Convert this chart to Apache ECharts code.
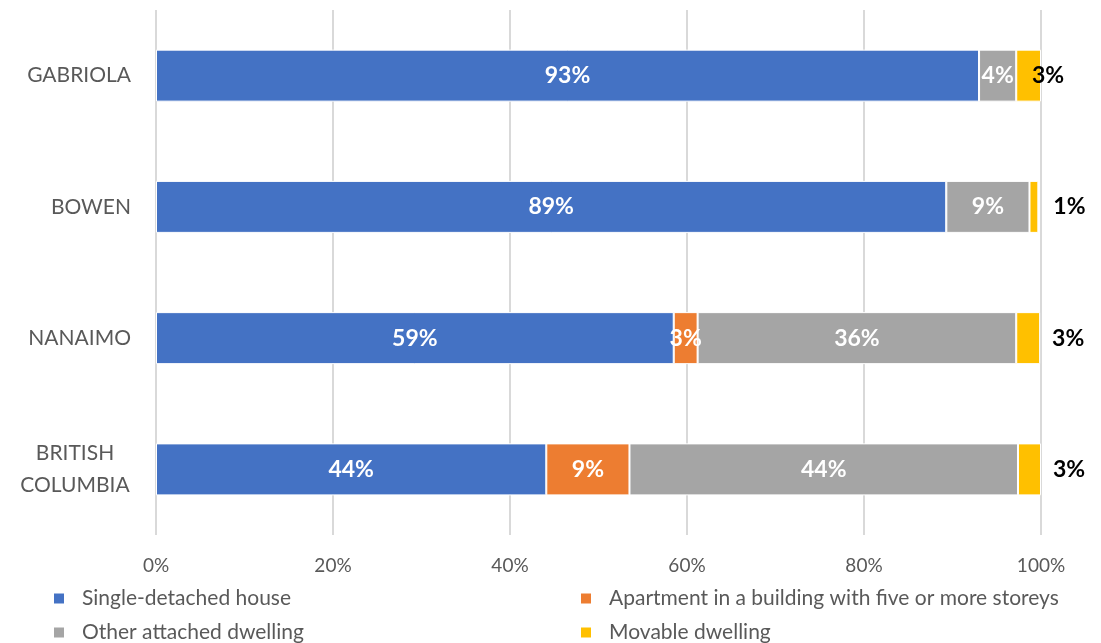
<!DOCTYPE html>
<html>
<head>
<meta charset="utf-8">
<script src="https://cdn.jsdelivr.net/npm/echarts@6/dist/echarts.min.js"></script>
<style>html,body{margin:0;padding:0;background:#fff;}#c{width:1101px;height:643px;}</style>
</head>
<body>
<div id="c"></div>
<script>
const categories = ['GABRIOLA', 'BOWEN', 'NANAIMO', 'BRITISH COLUMBIA'];
const seriesNames = ['Single-detached house', 'Apartment in a building with five or more storeys', 'Other attached dwelling', 'Movable dwelling'];
const singleDetached = [93.0, 89.3, 58.5, 44.1];
const apartment5Plus = [0, 0, 2.7, 9.4];
const otherAttached = [4.2, 9.4, 36.0, 43.9];
const movable = [2.8, 1.0, 2.7, 2.6];
const xTickLabels = ['0%', '20%', '40%', '60%', '80%', '100%'];

const colors = ['#4472C4', '#ED7D31', '#A5A5A5', '#FFC000'];
const FONT = 'Lato';
const values = [singleDetached, apartment5Plus, otherAttached, movable];

const fmt = p => (p.value > 0 ? Math.round(p.value) + '%' : '');

const series = values.map((arr, si) => {
  const isMov = si === 3;
  return {
    name: seriesNames[si],
    type: 'bar',
    stack: 'total',
    barWidth: 52,
    itemStyle: { color: colors[si], borderColor: '#fff', borderWidth: 1 },
    label: {
      show: true,
      position: isMov ? 'right' : 'inside',
      distance: 12,
      formatter: fmt,
      color: isMov ? '#000' : '#fff',
      fontFamily: FONT,
      fontWeight: 'bold',
      fontSize: 23
    },
    data: arr.map((v, i) => {
      if (isMov && i === 0) return { value: v, label: { offset: [-21, 0] } };
      if (isMov && i === 1) return { value: v, label: { offset: [3, 0] } };
      return v;
    })
  };
});

const legendBase = {
  orient: 'horizontal',
  padding: 0,
  itemWidth: 12,
  itemHeight: 12,
  icon: 'rect',
  textStyle: { color: '#595959', fontFamily: FONT, fontSize: 21, padding: [0, 0, 0, 12] }
};

const chart = echarts.init(document.getElementById('c'));
chart.setOption({
  animation: false,
  color: colors,
  grid: { left: 156, right: 60, top: 10, bottom: 108 },
  xAxis: {
    type: 'value',
    min: 0, max: 100, interval: 20,
    axisLine: { show: false },
    axisTick: { show: false },
    splitLine: { show: true, lineStyle: { color: '#d9d9d9', width: 2 } },
    axisLabel: {
      margin: 21,
      color: '#595959', fontFamily: FONT, fontSize: 19,
      formatter: v => xTickLabels[Math.round(v / 20)]
    }
  },
  yAxis: {
    type: 'category',
    inverse: true,
    data: categories,
    axisLine: { show: false },
    axisTick: { show: false },
    axisLabel: {
      margin: 25,
      color: '#595959', fontFamily: FONT, fontSize: 21,
      formatter: v => {
        const parts = v.split(' ');
        if (parts.length > 1) return parts.map(p => '{c|' + p + '}').join('\n');
        return v;
      },
      rich: { c: { width: 112, align: 'center', color: '#595959', fontFamily: FONT, fontSize: 21, lineHeight: 32 } }
    }
  },
  legend: [
    Object.assign({}, legendBase, { left: 52, top: 588, data: [seriesNames[0]] }),
    Object.assign({}, legendBase, { left: 579, top: 588, data: [seriesNames[1]] }),
    Object.assign({}, legendBase, { left: 52, top: 622, data: [seriesNames[2]] }),
    Object.assign({}, legendBase, { left: 579, top: 622, data: [seriesNames[3]] })
  ],
  series: series
});
</script>
</body>
</html>
